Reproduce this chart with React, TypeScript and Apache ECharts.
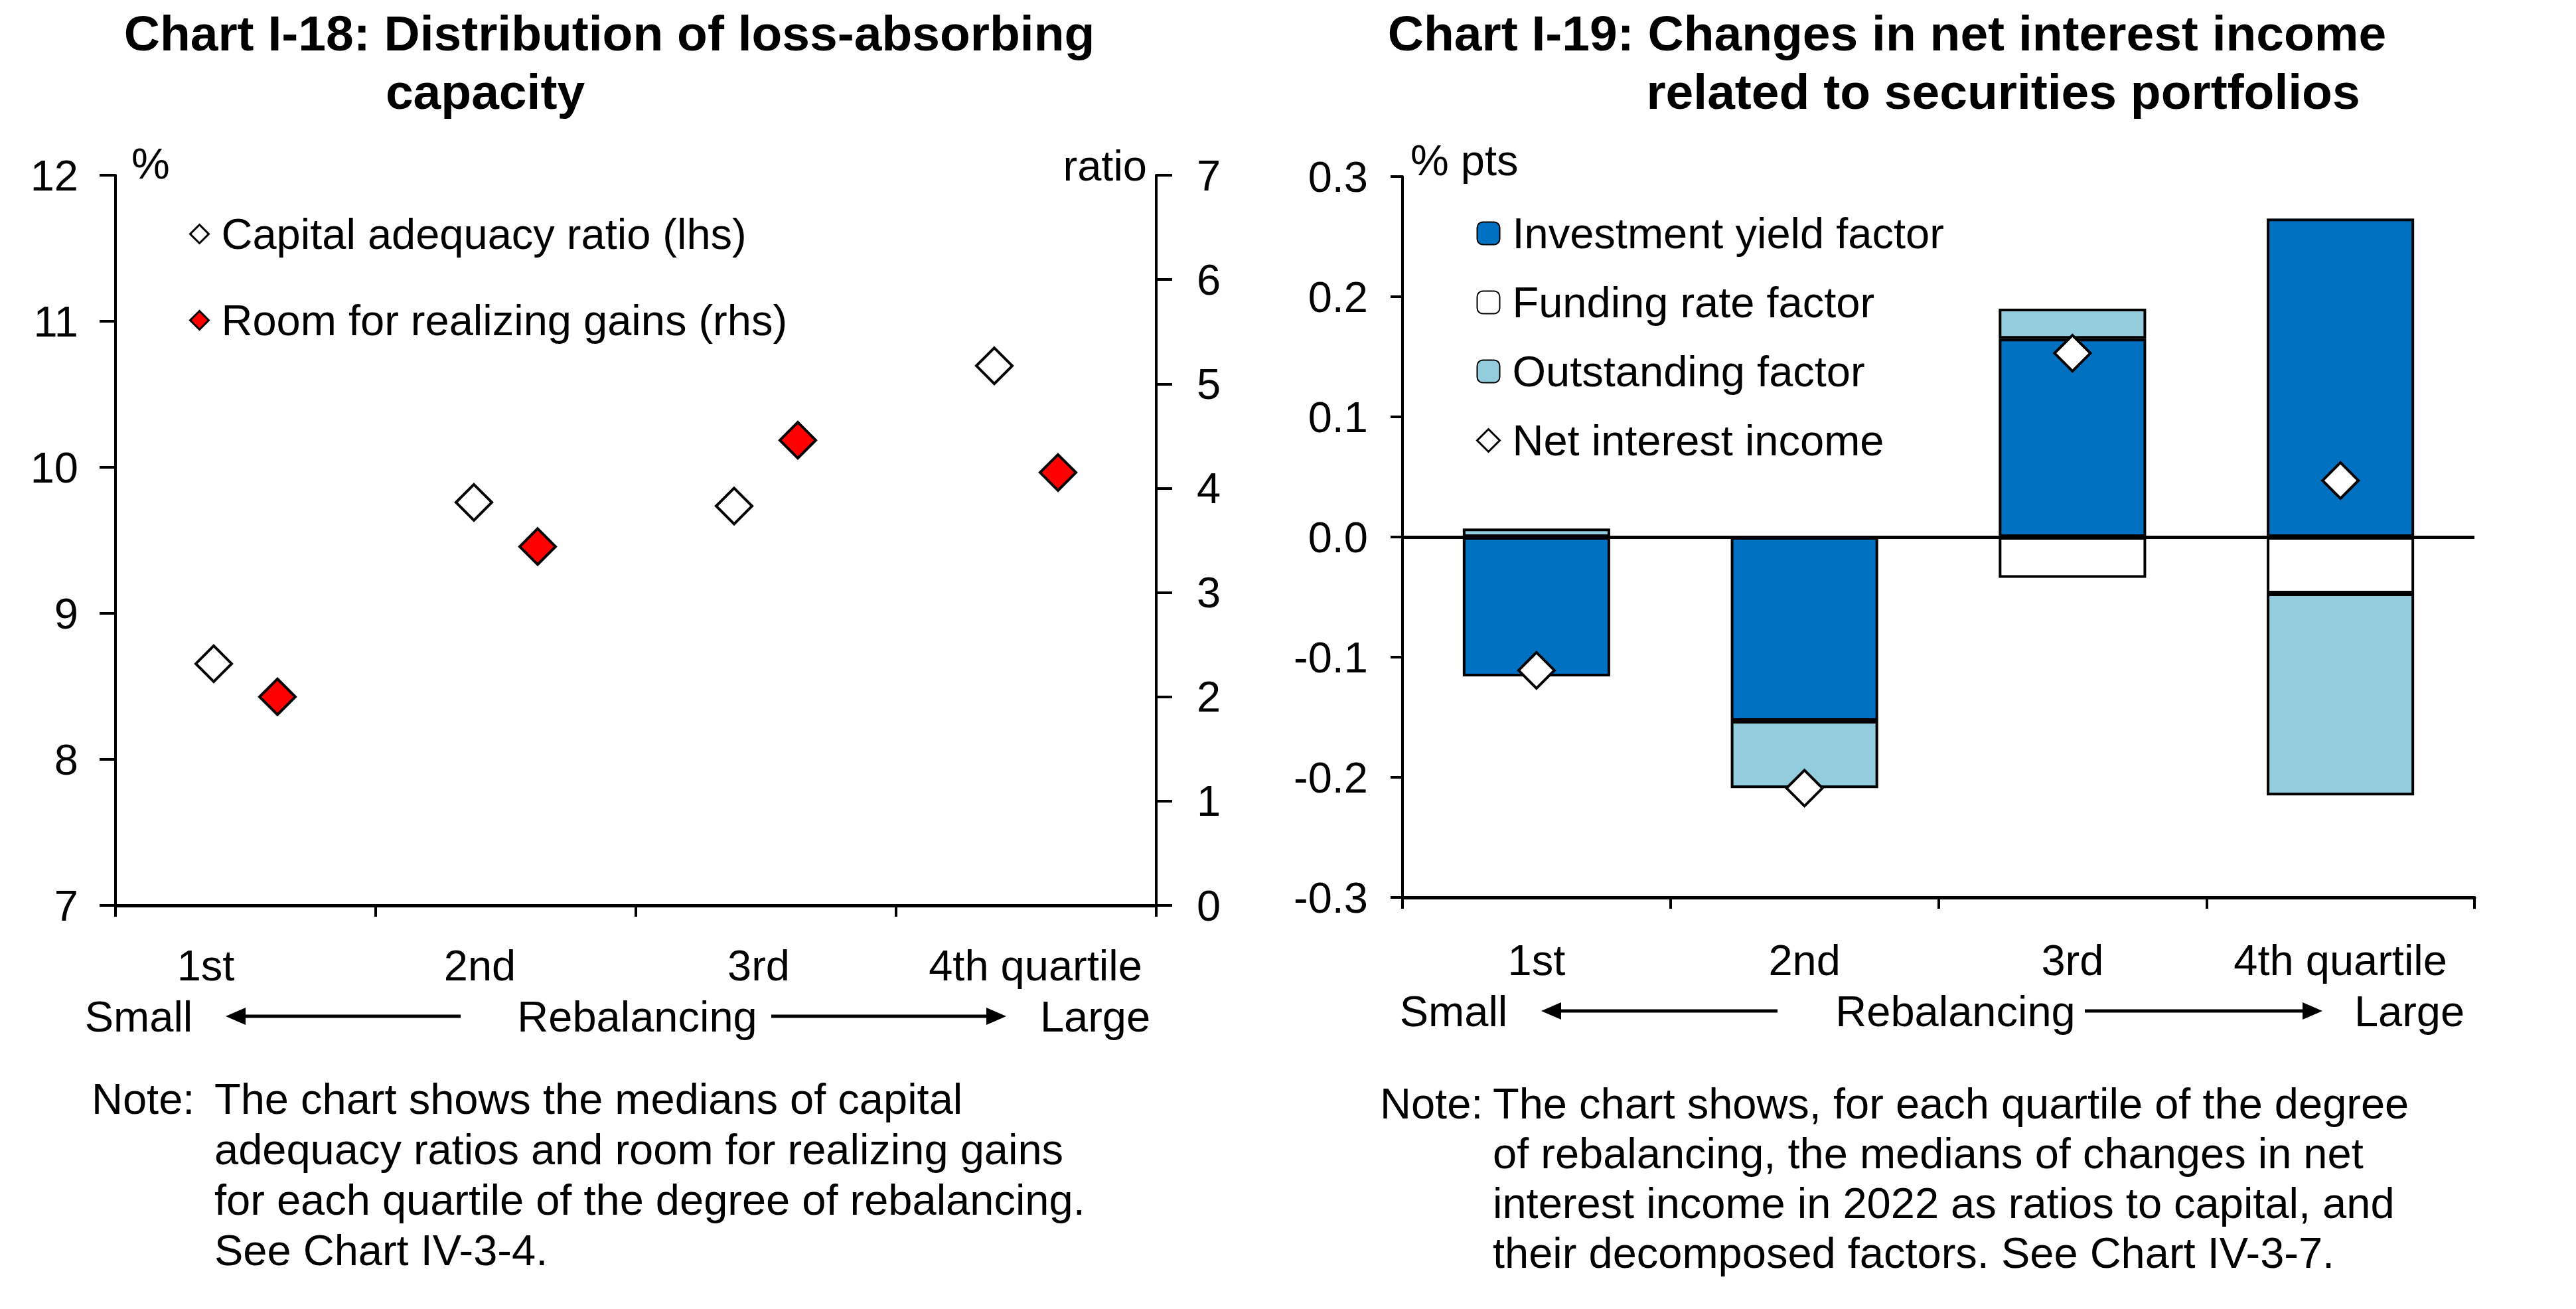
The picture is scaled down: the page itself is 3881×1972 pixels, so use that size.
import React, { useEffect, useRef } from "react";
import * as echarts from "echarts";

// chart I-18
const categories = ["1st", "2nd", "3rd", "4th quartile"];
const capitalAdequacy = [8.655, 9.76, 9.735, 10.695];
const roomForGains = [2.0, 3.44, 4.46, 4.15];

// chart I-19
const investmentYield = [-0.116, -0.153, 0.165, 0.265];
const fundingRate = [null, null, -0.034, -0.047];
const outstanding = [0.007, -0.056, 0.025, -0.168];
const netInterest = [-0.111, -0.209, 0.153, 0.047];

const noteLeft = [
  "The chart shows the medians of capital",
  "adequacy ratios and room for realizing gains",
  "for each quartile of the degree of rebalancing.",
  "See Chart IV-3-4.",
];
const noteRight = [
  "The chart shows, for each quartile of the degree",
  "of rebalancing, the medians of changes in net",
  "interest income in 2022 as ratios to capital, and",
  "their decomposed factors. See Chart IV-3-7.",
];

const FONT = "'Liberation Sans', Arial, sans-serif";
const FS = 65;

const txt = (text: string, x: number, y: number, align = "left", bold = false, size = FS) => ({
  type: "text",
  x,
  y,
  silent: true,
  style: {
    text,
    fill: "#000",
    fontSize: size,
    fontFamily: FONT,
    fontWeight: bold ? "bold" : "normal",
    align,
    textAlign: align,
    verticalAlign: "middle",
    textVerticalAlign: "middle",
  },
});

const arrow = (x1: number, x2: number, y: number, headLeft: boolean) => {
  const tip = headLeft ? x1 : x2;
  const back = headLeft ? x1 + 30 : x2 - 30;
  return {
    type: "group",
    silent: true,
    children: [
      {
        type: "line",
        shape: { x1: headLeft ? back : x1, y1: y, x2: headLeft ? x2 : back, y2: y },
        style: { stroke: "#000", lineWidth: 5 },
      },
      {
        type: "polygon",
        shape: { points: [[tip, y], [back, y - 13], [back, y + 13]] },
        style: { fill: "#000" },
      },
    ],
  };
};

const App: React.FC = () => {
  const chartRef = useRef<HTMLDivElement>(null);

  useEffect(() => {
    if (!chartRef.current) return;
    const myChart = echarts.init(chartRef.current, undefined, { renderer: "svg" });

    // shift the left chart's category labels the way the original does
    const leftPad = [120, 78, 22, 0];
    const leftPadL = [0, 0, 0, 28];
    const rich: any = {};
    leftPad.forEach((p, i) => {
      rich["c" + i] = { fontSize: FS, fontFamily: FONT, color: "#000", padding: [0, p, 0, leftPadL[i]] };
    });

    const axisLine = { show: true, lineStyle: { color: "#000", width: 4 } };
    const labelStyle = { color: "#000", fontSize: FS, fontFamily: FONT };

    const option: any = {
      animation: false,
      backgroundColor: "#fff",
      textStyle: { fontFamily: FONT },
      grid: [
        { left: 174, top: 264, width: 1568, height: 1100 },
        { left: 2113, top: 266, width: 1615, height: 1086 },
      ],
      xAxis: [
        {
          type: "category",
          gridIndex: 0,
          data: categories,
          axisLine: { show: true, onZero: false, lineStyle: { color: "#000", width: 5 } },
          axisTick: { show: true, length: 17, lineStyle: { color: "#000", width: 4 } },
          axisLabel: {
            ...labelStyle,
            margin: 58,
            interval: 0,
            formatter: (v: string, i: number) => `{c${i}|${v}}`,
            rich,
          },
        },
        {
          type: "category",
          gridIndex: 1,
          data: categories,
          axisLine: { show: true, onZero: false, lineStyle: { color: "#000", width: 5 } },
          axisTick: { show: true, length: 17, lineStyle: { color: "#000", width: 4 } },
          axisLabel: { ...labelStyle, margin: 62, interval: 0 },
        },
      ],
      yAxis: [
        {
          type: "value",
          gridIndex: 0,
          position: "left",
          min: 7,
          max: 12,
          interval: 1,
          axisLine,
          axisTick: { show: true, length: 24, lineStyle: { color: "#000", width: 4 } },
          axisLabel: { ...labelStyle, margin: 56 },
          splitLine: { show: false },
        },
        {
          type: "value",
          gridIndex: 0,
          position: "right",
          min: 0,
          max: 7,
          interval: 1,
          axisLine,
          axisTick: { show: true, length: 24, lineStyle: { color: "#000", width: 4 } },
          axisLabel: { ...labelStyle, margin: 61 },
          splitLine: { show: false },
        },
        {
          type: "value",
          gridIndex: 1,
          min: -0.3,
          max: 0.3,
          interval: 0.1,
          axisLine,
          axisTick: { show: true, length: 18, lineStyle: { color: "#000", width: 4 } },
          axisLabel: { ...labelStyle, margin: 52, formatter: (v: number) => v.toFixed(1) },
          splitLine: { show: false },
        },
      ],
      legend: [
        {
          orient: "vertical",
          left: 280,
          top: 315,
          itemWidth: 28,
          itemHeight: 28,
          itemGap: 65,
          selectedMode: false,
          textStyle: { ...labelStyle, padding: [0, 0, 0, 14] },
          data: [
            { name: "Capital adequacy ratio (lhs)", itemStyle: { borderWidth: 3 } },
            { name: "Room for realizing gains (rhs)", itemStyle: { borderWidth: 3 } },
          ],
        },
        {
          orient: "vertical",
          left: 2219,
          top: 314,
          itemWidth: 34,
          itemHeight: 34,
          itemGap: 39,
          selectedMode: false,
          textStyle: { ...labelStyle, padding: [0, 0, 0, 14] },
          data: [
            { name: "Investment yield factor" },
            { name: "Funding rate factor" },
            { name: "Outstanding factor" },
            { name: "Net interest income", itemStyle: { borderWidth: 3 } },
          ],
        },
      ],
      series: [
        {
          name: "Capital adequacy ratio (lhs)",
          type: "scatter",
          xAxisIndex: 0,
          yAxisIndex: 0,
          data: capitalAdequacy,
          symbol: "diamond",
          symbolSize: 54,
          symbolOffset: [-48, 0],
          itemStyle: { color: "#fff", borderColor: "#000", borderWidth: 4, opacity: 1 },
          emphasis: { disabled: true },
        },
        {
          name: "Room for realizing gains (rhs)",
          type: "scatter",
          xAxisIndex: 0,
          yAxisIndex: 1,
          data: roomForGains,
          symbol: "diamond",
          symbolSize: 54,
          symbolOffset: [48, 0],
          itemStyle: { color: "#ff0000", borderColor: "#000", borderWidth: 4, opacity: 1 },
          emphasis: { disabled: true },
        },
        {
          name: "Investment yield factor",
          type: "bar",
          xAxisIndex: 1,
          yAxisIndex: 2,
          stack: "f",
          barWidth: "55%",
          data: investmentYield,
          itemStyle: { color: "#0070c0", borderColor: "#000", borderWidth: 4 },
          emphasis: { disabled: true },
          markLine: {
            silent: true,
            symbol: ["none", "none"],
            label: { show: false },
            lineStyle: { color: "#000", width: 5, type: "solid" },
            data: [{ yAxis: 0 }],
            z: 5,
          },
        },
        {
          name: "Funding rate factor",
          type: "bar",
          xAxisIndex: 1,
          yAxisIndex: 2,
          stack: "f",
          barWidth: "55%",
          data: fundingRate,
          itemStyle: { color: "#ffffff", borderColor: "#000", borderWidth: 4 },
          emphasis: { disabled: true },
        },
        {
          name: "Outstanding factor",
          type: "bar",
          xAxisIndex: 1,
          yAxisIndex: 2,
          stack: "f",
          barWidth: "55%",
          data: outstanding,
          itemStyle: { color: "#93cddd", borderColor: "#000", borderWidth: 4 },
          emphasis: { disabled: true },
        },
        {
          name: "Net interest income",
          type: "scatter",
          xAxisIndex: 1,
          yAxisIndex: 2,
          data: netInterest,
          symbol: "diamond",
          symbolSize: 54,
          z: 10,
          itemStyle: { color: "#fff", borderColor: "#000", borderWidth: 4, opacity: 1 },
          emphasis: { disabled: true },
        },
      ],
      graphic: [
        txt("Chart I-18: Distribution of loss-absorbing", 918, 50, "center", true, 75),
        txt("capacity", 731, 138, "center", true, 75),
        txt("Chart I-19: Changes in net interest income", 2843, 50, "center", true, 75),
        txt("related to securities portfolios", 3018, 138, "center", true, 75),
        txt("%", 198, 246),
        txt("ratio", 1728, 249, "right"),
        txt("% pts", 2125, 241),
        txt("Small", 209, 1531, "center"),
        arrow(340, 694, 1531, true),
        txt("Rebalancing", 960, 1531, "center"),
        arrow(1162, 1516, 1531, false),
        txt("Large", 1650, 1531, "center"),
        txt("Small", 2190, 1523, "center"),
        arrow(2322, 2678, 1523, true),
        txt("Rebalancing", 2946, 1523, "center"),
        arrow(3141, 3499, 1523, false),
        txt("Large", 3630, 1523, "center"),
        txt("Note:", 138, 1655),
        ...noteLeft.map((s, i) => txt(s, 323, 1655 + 76 * i)),
        txt("Note:", 2079, 1662),
        ...noteRight.map((s, i) => txt(s, 2249, 1662 + 75 * i)),
      ],
    };

    myChart.setOption(option);
    return () => {
      myChart.dispose();
    };
  }, []);

  return (
    <div
      ref={chartRef}
      style={{ position: "absolute", left: 0, top: 0, width: "3881px", height: "1972px", background: "#fff" }}
    />
  );
};

export default App;
